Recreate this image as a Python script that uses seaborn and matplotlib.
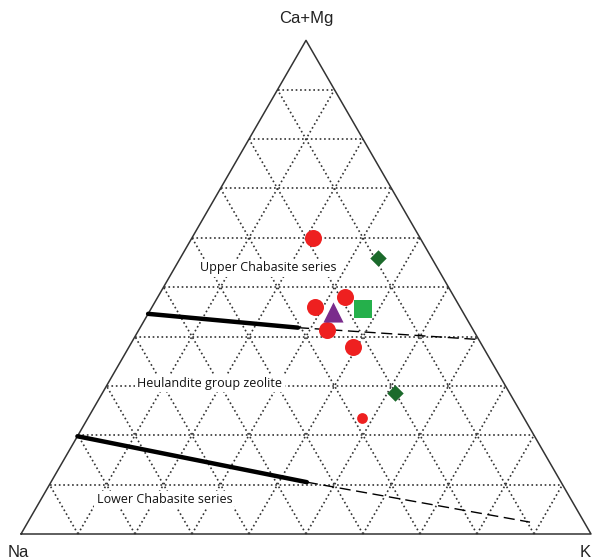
import numpy as np
import pandas as pd
import seaborn as sns
import matplotlib.pyplot as plt

# ternary compositions as fractions (Na, K, Ca+Mg)
red_na = [0.188, 0.254, 0.191, 0.256, 0.228]
red_k = [0.212, 0.286, 0.328, 0.330, 0.393]
red_cm = [0.600, 0.460, 0.481, 0.414, 0.379]

small_na = [0.284]
small_k = [0.480]
small_cm = [0.236]

tri_na = [0.228]
tri_k = [0.322]
tri_cm = [0.450]

sq_na = [0.172]
sq_k = [0.372]
sq_cm = [0.456]

dia_na = [0.094, 0.202]
dia_k = [0.347, 0.514]
dia_cm = [0.560, 0.285]

# field boundaries: start on Na-(Ca+Mg) side, solid part end, dashed end
upper_na = [0.554, 0.305, 0.000]
upper_k = [0.000, 0.277, 0.606]
upper_cm = [0.446, 0.418, 0.394]

lower_na = [0.802, 0.446, 0.095]
lower_k = [0.000, 0.449, 0.881]
lower_cm = [0.198, 0.105, 0.024]

fields = ['Upper Chabasite series', 'Heulandite group zeolite', 'Lower Chabasite series']
field_na = [0.297, 0.516, 0.714]
field_k = [0.164, 0.179, 0.217]
field_cm = [0.539, 0.305, 0.069]

H = np.sqrt(3) / 2


def to_xy(k, cm):
    k = np.asarray(k, dtype=float)
    cm = np.asarray(cm, dtype=float)
    return k + cm / 2, cm * H


def frame(na, k, cm):
    x, y = to_xy(k, cm)
    return pd.DataFrame({'x': x, 'y': y})


sns.set_style('white')
fig = plt.figure(figsize=(5.95, 5.6), dpi=100)
ax = fig.add_axes([0, 0, 1, 1])

# grid, every 10 %
for i in range(1, 10):
    f = i / 10
    # constant Ca+Mg
    x, y = to_xy([0, 1 - f], [f, f])
    ax.plot(x, y, ls=':', color='#333333', lw=1.2)
    # constant K
    x, y = to_xy([f, f], [0, 1 - f])
    ax.plot(x, y, ls=':', color='#333333', lw=1.2)
    # constant Na
    x, y = to_xy([1 - f, 0], [0, 1 - f])
    ax.plot(x, y, ls=':', color='#333333', lw=1.2)

# outline
x, y = to_xy([0, 1, 0, 0], [0, 0, 1, 0])
ax.plot(x, y, color='#333333', lw=1.1)

# boundaries
for na, k, cm in [(upper_na, upper_k, upper_cm), (lower_na, lower_k, lower_cm)]:
    d = frame(na, k, cm)
    sns.lineplot(data=d.iloc[:2], x='x', y='y', color='black', lw=3.2, ax=ax, sort=False)
    sns.lineplot(data=d.iloc[1:], x='x', y='y', color='black', lw=1, ax=ax, sort=False,
                 linestyle=(0, (8, 4)))

sns.scatterplot(data=frame(red_na, red_k, red_cm), x='x', y='y', color='#ee2020',
                marker='o', s=150, linewidth=0, ax=ax, zorder=5)
sns.scatterplot(data=frame(small_na, small_k, small_cm), x='x', y='y', color='#ee2020',
                marker='o', s=60, linewidth=0, ax=ax, zorder=5)
sns.scatterplot(data=frame(tri_na, tri_k, tri_cm), x='x', y='y', color='#7a2c8c',
                marker='^', s=210, linewidth=0, ax=ax, zorder=5)
sns.scatterplot(data=frame(sq_na, sq_k, sq_cm), x='x', y='y', color='#25b04b',
                marker='s', s=170, linewidth=0, ax=ax, zorder=5)
sns.scatterplot(data=frame(dia_na, dia_k, dia_cm), x='x', y='y', color='#1b6a2b',
                marker='D', s=70, linewidth=0, ax=ax, zorder=5)

fx, fy = to_xy(field_k, field_cm)
for t, xx, yy in zip(fields, fx, fy):
    ax.text(xx, yy, t, ha='center', va='center', fontsize=9, family='Open Sans',
            color='#111111', zorder=6,
            bbox=dict(facecolor='white', edgecolor='none', pad=1.5))

ax.text(0.5, H + 0.039, 'Ca+Mg', ha='center', va='center', fontsize=12,
        family='Liberation Sans', color='#222222')
ax.text(-0.005, -0.032, 'Na', ha='center', va='center', fontsize=12,
        family='Liberation Sans', color='#222222')
ax.text(1.0, -0.032, 'K', ha='right', va='center', fontsize=12,
        family='Liberation Sans', color='#222222')

ax.set_xlim(-21 / 570, 574 / 570)
ax.set_ylim(-26 / 570, 534 / 570)
ax.set_axis_off()

fig.savefig('out.png', dpi=100)
